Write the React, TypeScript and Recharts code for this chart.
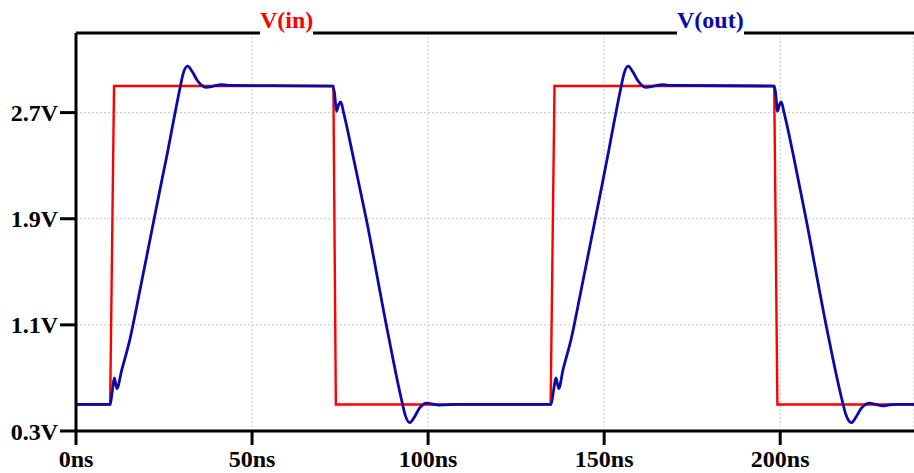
import React from "react";
import { LineChart, Line, XAxis, YAxis, CartesianGrid, ReferenceLine } from "recharts";

// V(in): time (ns) and voltage (V)
const vinTime = [0, 9.7, 10.8, 73.1, 73.8, 134.8, 135.9, 198.3, 199.2, 238];
const vinVolts = [0.5, 0.5, 2.9, 2.9, 0.5, 0.5, 2.9, 2.9, 0.5, 0.5];

// V(out): time (ns) and voltage (V)
const voutTime = [
  0, 9.7, 10.3, 10.9, 11.6, 13, 15.3, 18, 21, 24, 26, 28, 29.5, 30.5, 31.7, 33, 34.5, 36, 37.2, 39, 41.5, 44,
  72.9, 73.4, 74.0, 74.6, 75.2, 76, 78.7, 82.5, 88.2, 92.5, 93.5, 94.8, 96, 97.5, 99.6, 101, 103, 105, 108,
  134.9, 135.6, 136.3, 137.1, 138.3, 140.6, 143.3, 146.3, 149.3, 151.2, 153.2, 154.7, 155.7, 156.8, 158.1, 159.6, 161, 162, 164, 166.7, 169,
  198.2, 198.7, 199.2, 199.8, 200.3, 201.1, 203.8, 207.4, 213.1, 217.6, 218.7, 220.2, 221.4, 223, 225.4, 227, 229.2, 231, 233, 238,
];
const voutVolts = [
  0.5, 0.5, 0.6, 0.7, 0.62, 0.76, 0.99, 1.34, 1.74, 2.14, 2.4, 2.68, 2.88, 3.0, 3.05, 3.01, 2.94, 2.9, 2.89, 2.9, 2.91, 2.905,
  2.9, 2.85, 2.71, 2.76, 2.78, 2.7, 2.37, 1.89, 1.09, 0.53, 0.42, 0.363, 0.4, 0.47, 0.51, 0.505, 0.495, 0.497, 0.5,
  0.5, 0.6, 0.7, 0.62, 0.76, 0.99, 1.34, 1.74, 2.14, 2.4, 2.68, 2.88, 3.0, 3.05, 3.01, 2.94, 2.9, 2.89, 2.9, 2.91, 2.905,
  2.9, 2.85, 2.71, 2.76, 2.78, 2.7, 2.37, 1.89, 1.09, 0.53, 0.42, 0.363, 0.4, 0.47, 0.51, 0.5, 0.489, 0.497, 0.5, 0.5,
];

const xTicks = [0, 50, 100, 150, 200];
const yTicks = [0.3, 1.1, 1.9, 2.7];
const seriesNames = ["V(in)", "V(out)"];

const FONT = "'Liberation Serif', 'Times New Roman', serif";
const tickStyle = { fill: "#000", fontSize: 24, fontWeight: "bold" as const, fontFamily: FONT };

export default function App() {
  const vin = vinTime.map((t, i) => ({ t, v: vinVolts[i] }));
  const vout = voutTime.map((t, i) => ({ t, v: voutVolts[i] }));
  const titleBase: React.CSSProperties = {
    position: "absolute",
    top: 6,
    fontFamily: FONT,
    fontWeight: "bold",
    fontSize: 24,
    lineHeight: "28px",
    background: "#fff",
    paddingBottom: 3,
    whiteSpace: "nowrap",
  };
  return (
    <div style={{ position: "absolute", left: 0, top: 0, width: 914, height: 473, background: "#fff", overflow: "hidden" }}>
      <LineChart width={914} height={473} margin={{ top: 33, right: 0, bottom: 0, left: 0 }}>
        <CartesianGrid stroke="#c4c4c4" strokeDasharray="2 2" strokeWidth={1} />
        <XAxis
          dataKey="t"
          type="number"
          domain={[0, 238]}
          allowDataOverflow
          ticks={xTicks}
          interval={0}
          tickFormatter={(v: number) => `${v}ns`}
          height={42}
          tickSize={14}
          tickMargin={5}
          axisLine={{ stroke: "#000", strokeWidth: 3 }}
          tickLine={{ stroke: "#000", strokeWidth: 3 }}
          tick={tickStyle}
        />
        <YAxis
          type="number"
          domain={[0.3, 3.3]}
          allowDataOverflow
          ticks={yTicks}
          interval={0}
          tickFormatter={(v: number) => `${v.toFixed(1)}V`}
          width={76}
          tickSize={16}
          tickMargin={2}
          axisLine={{ stroke: "#000", strokeWidth: 3 }}
          tickLine={{ stroke: "#000", strokeWidth: 3 }}
          tick={tickStyle}
        />
        <ReferenceLine y={3.3} stroke="#000" strokeWidth={3} />
        <Line
          data={vin}
          dataKey="v"
          name={seriesNames[0]}
          type="linear"
          stroke="#ff0000"
          strokeWidth={2.4}
          dot={false}
          activeDot={false}
          isAnimationActive={false}
        />
        <Line
          data={vout}
          dataKey="v"
          name={seriesNames[1]}
          type="monotone"
          stroke="#0a0aa8"
          strokeWidth={2.8}
          dot={false}
          activeDot={false}
          isAnimationActive={false}
        />
      </LineChart>
      <div style={{ ...titleBase, left: 260, color: "#ff0000" }}>{seriesNames[0]}</div>
      <div style={{ ...titleBase, left: 677, color: "#0a0aa8" }}>{seriesNames[1]}</div>
    </div>
  );
}
